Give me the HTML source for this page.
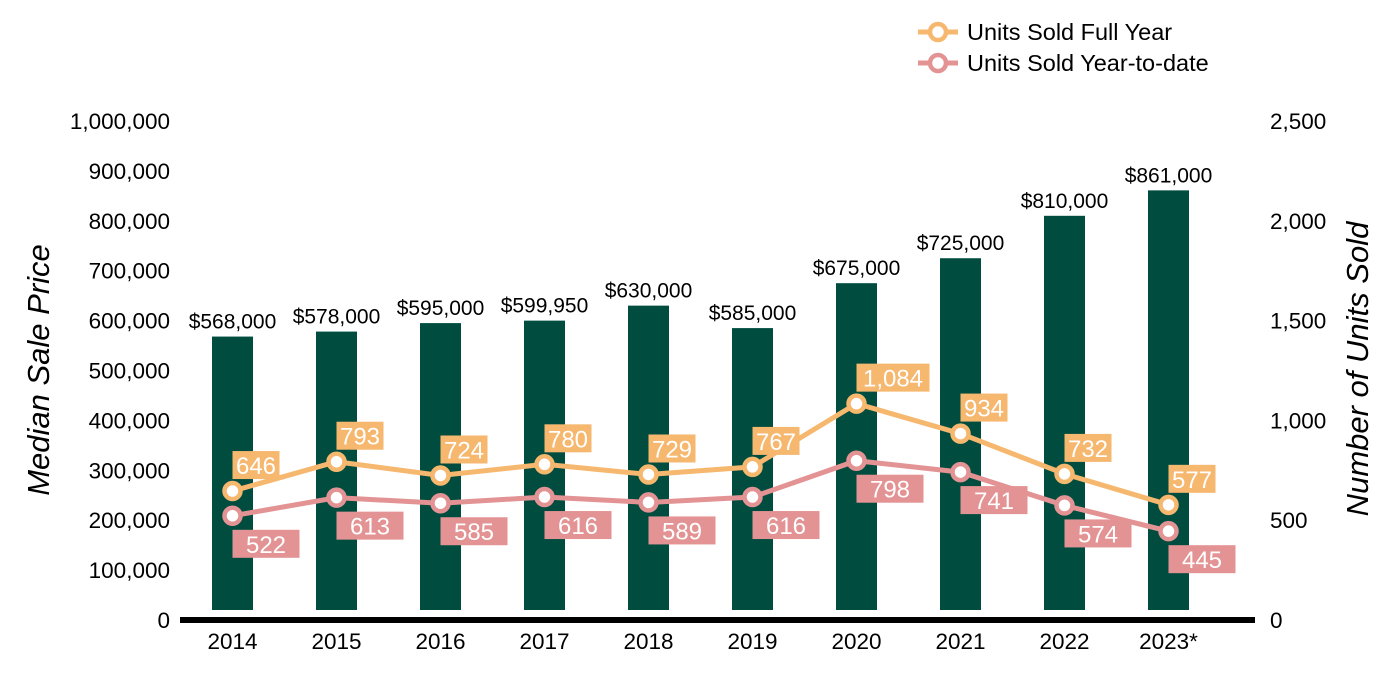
<!DOCTYPE html>
<html><head><meta charset="utf-8"><style>
body{margin:0;background:#fff;}
svg{display:block;font-family:"Liberation Sans",Arial,sans-serif;}
</style></head><body>
<svg id="c" width="1400" height="700"></svg>
<script>
const years=["2014","2015","2016","2017","2018","2019","2020","2021","2022","2023*"];
const prices=[568000,578000,595000,599950,630000,585000,675000,725000,810000,861000];
const fullYear=[646,793,724,780,729,767,1084,934,732,577];
const ytd=[522,613,585,616,589,616,798,741,574,445];
const leftTicks=[0,100000,200000,300000,400000,500000,600000,700000,800000,900000,1000000];
const rightTicks=[0,500,1000,1500,2000,2500];
const NS="http://www.w3.org/2000/svg";
const svg=document.getElementById('c');
const y0=620,yTop=121;
const yL=v=>y0-(v/1000000)*(y0-yTop);
const yR=v=>y0-(v/2500)*(y0-yTop);
const xC=i=>232.5+i*104;
const fmt=n=>n.toLocaleString('en-US');
function el(t,a,txt){const e=document.createElementNS(NS,t);for(const k in a)e.setAttribute(k,a[k]);if(txt!=null)e.textContent=txt;svg.appendChild(e);return e;}
leftTicks.forEach(v=>{const t=el('text',{x:170,y:yL(v)+8,'text-anchor':'end','font-size':22.5,fill:'#000'},fmt(v));

});
rightTicks.forEach(v=>{const t=el('text',{x:1270,y:yR(v)+8,'text-anchor':'start','font-size':22.5,fill:'#000'},fmt(v));

});
let t=el('text',{x:0,y:0,transform:'translate(49,370) rotate(-90)','text-anchor':'middle','font-size':31,'font-style':'italic',fill:'#000'},'Median Sale Price');


t=el('text',{x:0,y:0,transform:'translate(1368,369) rotate(-90)','text-anchor':'middle','font-size':31,'font-style':'italic',fill:'#000'},'Number of Units Sold');


prices.forEach((v,i)=>{const y=yL(v);
const b=el('rect',{x:xC(i)-20.5,y:y,width:41,height:610-y,fill:'#004D40'});


const l=el('text',{x:xC(i),y:y-8,'text-anchor':'middle','font-size':21,fill:'#000'},'$'+fmt(v));


const xl=el('text',{x:xC(i),y:649,'text-anchor':'middle','font-size':22.5,fill:'#000'},years[i]);

});
const ax=el('rect',{x:180,y:617,width:1075,height:6,fill:'#000'});


function series(vals,color,name,above,pad){
 const pts=vals.map((v,i)=>xC(i)+','+yR(v)).join(' ');
 const p=el('polyline',{points:pts,fill:'none',stroke:color,'stroke-width':5});
 
 
 vals.forEach((v,i)=>{const x=xC(i),y=yR(v);
  const c=el('circle',{cx:x,cy:y,r:8,fill:'#fff',stroke:color,'stroke-width':4.5});
  
  
  const s=fmt(v);const w=s.length*13+pad*2;
  const by=above?y-40:y+14;
  const r=el('rect',{x:x,y:by,width:w,height:28,fill:color});
  
  
  const tx=el('text',{x:x+w/2,y:by+23,'text-anchor':'middle','font-size':24,fill:'#fff'},s);
  
  });
}
series(ytd,'#E39393','ytd',false,14);
series(fullYear,'#F6B76E','full-year',true,4);
[['Units Sold Full Year','#F6B76E',32],['Units Sold Year-to-date','#E39393',63]].forEach(([n,c,y],k)=>{
 const ln=el('line',{x1:918,y1:y,x2:958,y2:y,stroke:c,'stroke-width':5});
 
 
 const cc=el('circle',{cx:938,cy:y,r:8,fill:'#fff',stroke:c,'stroke-width':4.5});
 
 
 const tt=el('text',{x:967,y:y+8,'font-size':23.5,fill:'#000'},n);
 
 
});
</script>
</body></html>
